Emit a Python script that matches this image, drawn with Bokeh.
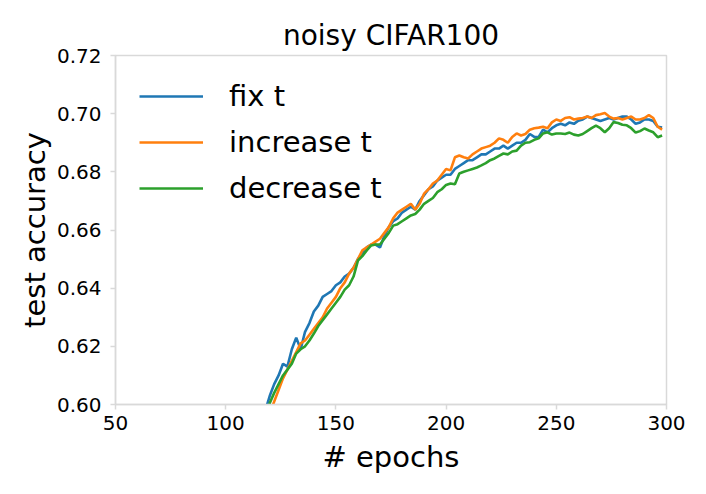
from bokeh.plotting import figure
from bokeh.models import Range1d, FixedTicker, Legend, LegendItem, PrintfTickFormatter
from bokeh.embed import file_html
from bokeh.resources import INLINE

epochs = list(range(112, 300, 2))

fix_t = [0.582, 0.587, 0.592, 0.598, 0.603, 0.607, 0.610, 0.614, 0.613, 0.619,
         0.623, 0.619, 0.625, 0.628, 0.632, 0.634, 0.637, 0.638, 0.639, 0.641,
         0.642, 0.644, 0.645, 0.647, 0.650, 0.652, 0.654, 0.655, 0.655, 0.654,
         0.658, 0.661, 0.663, 0.664, 0.666, 0.667, 0.668, 0.667, 0.670, 0.672,
         0.674, 0.675, 0.677, 0.678, 0.679, 0.679, 0.681, 0.682, 0.683, 0.684,
         0.684, 0.685, 0.686, 0.686, 0.687, 0.688, 0.688, 0.689, 0.688, 0.689,
         0.690, 0.690, 0.691, 0.693, 0.692, 0.692, 0.6945, 0.6936, 0.695, 0.696,
         0.6965, 0.696, 0.697, 0.6965, 0.6976, 0.698, 0.699, 0.6985, 0.698, 0.6975,
         0.698, 0.6985, 0.698, 0.6985, 0.699, 0.699, 0.698, 0.6965, 0.697, 0.698,
         0.698, 0.6975, 0.6955, 0.6952]

increase_t = [0.578, 0.583, 0.588, 0.593, 0.597, 0.601, 0.605, 0.609, 0.612, 0.615,
              0.618, 0.621, 0.622, 0.624, 0.626, 0.628, 0.630, 0.633, 0.635, 0.637,
              0.640, 0.642, 0.645, 0.647, 0.650, 0.653, 0.654, 0.655, 0.656, 0.657,
              0.659, 0.661, 0.664, 0.666, 0.667, 0.668, 0.669, 0.667, 0.669, 0.6725,
              0.674, 0.676, 0.677, 0.679, 0.681, 0.6805, 0.685, 0.6856, 0.685, 0.6846,
              0.686, 0.687, 0.688, 0.6885, 0.689, 0.690, 0.6915, 0.691, 0.690, 0.692,
              0.6932, 0.6925, 0.693, 0.6945, 0.695, 0.6952, 0.6955, 0.695, 0.697, 0.698,
              0.6975, 0.6985, 0.6988, 0.698, 0.6983, 0.6985, 0.699, 0.6985, 0.6995, 0.6998,
              0.7002, 0.699, 0.6983, 0.6985, 0.698, 0.6985, 0.699, 0.698, 0.698, 0.6985,
              0.6995, 0.6985, 0.6955, 0.6945]

decrease_t = [0.580, 0.585, 0.590, 0.595, 0.6005, 0.604, 0.607, 0.610, 0.612, 0.614,
              0.6175, 0.619, 0.620, 0.622, 0.6244, 0.627, 0.629, 0.631, 0.633, 0.635,
              0.637, 0.6395, 0.641, 0.644, 0.6495, 0.651, 0.653, 0.6547, 0.655, 0.655,
              0.657, 0.659, 0.6615, 0.662, 0.663, 0.664, 0.665, 0.6655, 0.667, 0.669,
              0.670, 0.671, 0.673, 0.674, 0.6755, 0.676, 0.6757, 0.6794, 0.680, 0.6805,
              0.681, 0.6815, 0.6822, 0.683, 0.684, 0.6846, 0.6855, 0.6863, 0.686, 0.687,
              0.6873, 0.689, 0.690, 0.6902, 0.691, 0.6915, 0.6932, 0.6936, 0.6928, 0.6932,
              0.6932, 0.693, 0.6935, 0.6928, 0.6925, 0.693, 0.694, 0.695, 0.6959, 0.695,
              0.6936, 0.695, 0.6971, 0.6968, 0.6962, 0.696, 0.695, 0.6935, 0.694, 0.6949,
              0.6942, 0.6936, 0.6919, 0.6925]

series_names = ["fix t", "increase t", "decrease t"]
series_colors = ["#1f77b4", "#ff7f0e", "#2ca02c"]
x_ticks = [50, 100, 150, 200, 250, 300]
y_ticks = [0.60, 0.62, 0.64, 0.66, 0.68, 0.70, 0.72]

FONT = "DejaVu Sans"
GRAY = "#d9d9d9"

p = figure(width=690, height=478, output_backend="svg", toolbar_location=None,
           x_range=Range1d(50, 300), y_range=Range1d(0.60, 0.72),
           title="noisy CIFAR100",
           min_border_left=115, min_border_right=24, min_border_top=55, min_border_bottom=74)

p.title.align = "center"
p.title.text_font = FONT
p.title.text_font_size = "28px"
p.title.text_font_style = "normal"
p.title.text_color = "black"
p.title.standoff = 8

renderers = []
for ys, c in zip([fix_t, increase_t, decrease_t], series_colors):
    r = p.line(epochs, ys, line_color=c, line_width=2.6)
    renderers.append(r)

p.xgrid.visible = False
p.ygrid.visible = False
p.outline_line_color = GRAY
p.outline_line_width = 1.5

p.xaxis.ticker = FixedTicker(ticks=x_ticks)
p.yaxis.ticker = FixedTicker(ticks=y_ticks)
p.yaxis.formatter = PrintfTickFormatter(format="%.2f")
for ax in (p.xaxis[0], p.yaxis[0]):
    ax.axis_line_color = GRAY
    ax.axis_line_width = 1.5
    ax.major_tick_line_color = GRAY
    ax.major_tick_line_width = 1.5
    ax.major_tick_out = 5
    ax.major_tick_in = 0
    ax.minor_tick_line_color = None
    ax.major_label_text_font = FONT
    ax.major_label_text_font_size = "20px"
    ax.major_label_text_color = "black"
    ax.axis_label_text_font = FONT
    ax.axis_label_text_font_size = "29px"
    ax.axis_label_text_font_style = "normal"
    ax.axis_label_text_color = "black"

p.xaxis.axis_label = "# epochs"
p.yaxis.axis_label = "test accuracy"
p.xaxis.major_label_standoff = 6
p.yaxis.major_label_standoff = 9
p.xaxis.axis_label_standoff = 7
p.yaxis.axis_label_standoff = 2

legend = Legend(items=[LegendItem(label=n, renderers=[r]) for n, r in zip(series_names, renderers)],
                location="top_left")
legend.border_line_color = None
legend.background_fill_alpha = 0
legend.label_text_font = FONT
legend.label_text_font_size = "29px"
legend.label_text_color = "black"
legend.glyph_width = 64
legend.glyph_height = 34
legend.label_height = 34
legend.spacing = 12
legend.label_standoff = 26
legend.margin = 24
legend.padding = 17
p.add_layout(legend)

open("out.html", "w").write(file_html(p, INLINE))
